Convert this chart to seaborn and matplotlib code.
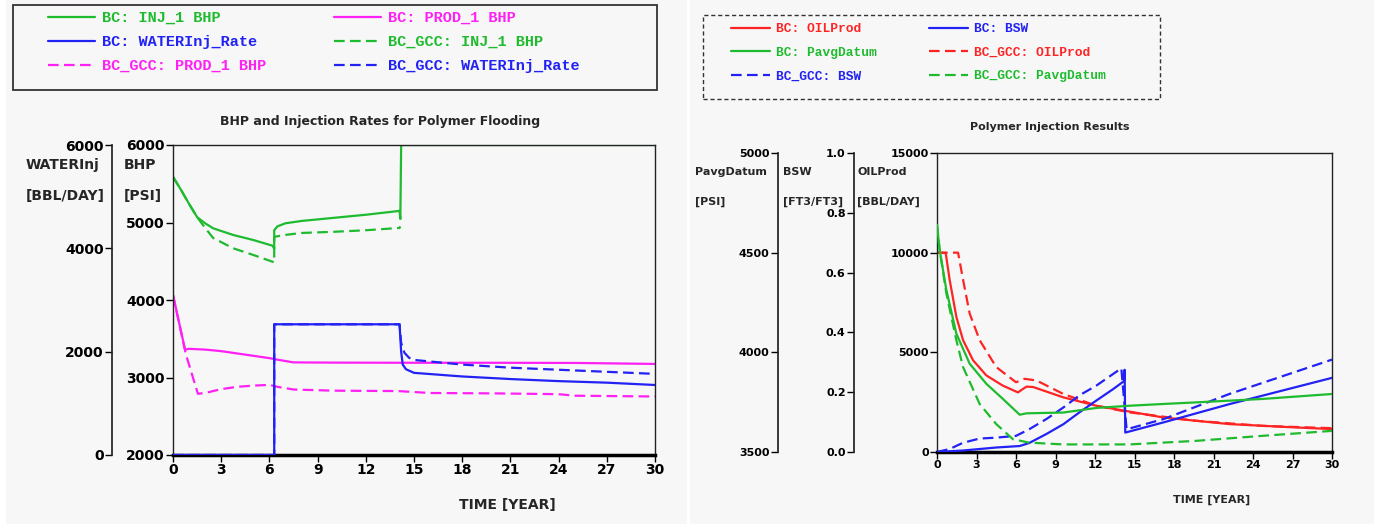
import matplotlib
matplotlib.use("Agg")
import matplotlib.pyplot as plt
from matplotlib.patches import Rectangle
import seaborn as sns

# ---------------- left chart: BHP and injection rates ----------------
t_inj_bc = [0, 0.5, 1.0, 1.5, 2, 2.5, 3.75, 5, 6.2, 6.3, 6.3, 6.5, 7, 8, 10, 12, 14.1, 14.15, 14.2, 30]
inj_bc = [5590, 5420, 5240, 5070, 4990, 4925, 4839, 4774, 4700, 4660, 4900, 4950, 4990, 5020, 5060, 5100, 5150, 5045, 6000, 6000]

t_inj_gcc = [0, 0.5, 1.0, 1.5, 2, 2.5, 3.75, 5, 6.3, 6.3, 7, 8, 10, 12, 14.1, 14.15]
inj_gcc = [5590, 5420, 5240, 5070, 4930, 4800, 4667, 4581, 4486, 4815, 4840, 4865, 4880, 4900, 4930, 4950]

t_prod_bc = [0, 0.75, 1, 2, 3, 4, 5, 6, 6.5, 7.5, 10, 15, 20, 25, 30]
prod_bc = [4065, 3360, 3370, 3360, 3340, 3310, 3280, 3250, 3230, 3195, 3192, 3190, 3190, 3188, 3175]

t_prod_gcc = [0, 0.8, 1.55, 2, 3, 4, 5, 6, 6.5, 7.5, 10, 14, 16, 20, 24, 25, 30]
prod_gcc = [4065, 3300, 2790, 2800, 2850, 2880, 2895, 2905, 2880, 2845, 2830, 2825, 2800, 2795, 2785, 2765, 2755]

t_water_bc = [0, 6.3, 6.3, 14.1, 14.2, 14.3, 14.5, 15, 18, 21, 24, 27, 30]
water_bc = [0, 0, 2530, 2530, 2000, 1750, 1660, 1590, 1520, 1470, 1430, 1400, 1355]

t_water_gcc = [0, 6.3, 6.3, 14.1, 14.2, 14.4, 14.7, 15, 18, 21, 24, 27, 30]
water_gcc = [0, 0, 2530, 2530, 2170, 1980, 1880, 1840, 1750, 1690, 1650, 1610, 1570]

# ---------------- right chart: polymer injection results ----------------
t_oil_bc = [0, 0.66, 0.96, 1.47, 1.98, 2.74, 3.75, 5.0, 6.15, 6.5, 6.8, 7.3, 9.6, 12.1, 14.25, 17.2, 22.2, 27.3, 30]
oil_bc = [10000, 9990, 8640, 6780, 5610, 4600, 3840, 3330, 2990, 3150, 3280, 3260, 2740, 2320, 2070, 1730, 1400, 1230, 1150]

t_oil_gcc = [0, 1.6, 1.98, 2.48, 3.24, 4.5, 6.0, 6.66, 7.55, 9.6, 12.1, 14.6, 19.6, 24.7, 30]
oil_gcc = [10000, 10000, 8640, 6950, 5610, 4260, 3500, 3670, 3590, 2910, 2320, 1990, 1570, 1310, 1195]

t_pavg_bc = [0, 0.2, 0.71, 1.47, 2.48, 3.75, 5.01, 6.28, 6.8, 9.6, 12.1, 14.6, 17.2, 19.7, 24.7, 30]
pavg_bc = [4640, 4515, 4313, 4094, 3943, 3842, 3766, 3687, 3694, 3698, 3721, 3732, 3741, 3749, 3766, 3791]

t_pavg_gcc = [0, 0.2, 0.71, 1.47, 1.98, 3.24, 4.5, 5.77, 7.0, 9.6, 14.6, 19.7, 24.7, 30]
pavg_gcc = [4640, 4515, 4296, 4061, 3926, 3741, 3640, 3564, 3547, 3538, 3538, 3556, 3581, 3606]

t_bsw_bc = [0, 1.98, 4.5, 6.28, 7.0, 8.3, 9.6, 10.8, 12.1, 13.4, 14.2, 14.25, 14.3, 17.2, 22.2, 30]
bsw_bc = [0, 0.005, 0.015, 0.02, 0.03, 0.06, 0.093, 0.132, 0.172, 0.211, 0.237, 0.275, 0.065, 0.099, 0.16, 0.248]

t_bsw_gcc = [0, 0.96, 1.98, 3.24, 4.5, 6.0, 7.0, 8.3, 9.6, 10.8, 12.1, 14.0, 14.4, 17.2, 22.2, 30]
bsw_gcc = [0, 0.01, 0.031, 0.045, 0.048, 0.054, 0.076, 0.11, 0.149, 0.189, 0.222, 0.28, 0.076, 0.11, 0.194, 0.309]

GREEN = "#1fbb2f"
BLUE = "#2222f5"
MAGENTA = "#ff20f5"
RED = "#ff2424"
BG = "#f7f7f7"
DASH = (0, (4.8, 2.4))

sns.set_theme(style="ticks")
plt.rcParams["font.family"] = ["DejaVu Sans"]
plt.rcParams["font.weight"] = "bold"
plt.rcParams["axes.facecolor"] = BG

W, H = 1374, 524
fig = plt.figure(figsize=(W / 100, H / 100), dpi=100)
fig.patch.set_facecolor(BG)


def box(l, t, r, b):
    return [l / W, 1 - b / H, (r - l) / W, (b - t) / H]


def draw(ax, t, y, color, dashed=False):
    sns.lineplot(x=t, y=y, ax=ax, color=color, lw=1.6, estimator=None, sort=False,
                 linestyle=DASH if dashed else "-", legend=False)
    return ax.get_lines()[-1]


def style_axis(ax, fs):
    ax.tick_params(axis="both", direction="out", length=5, width=1, labelsize=fs,
                   pad=1, colors="black")
    ax.set_xlabel("")
    ax.set_ylabel("")
    for lab in ax.get_xticklabels() + ax.get_yticklabels():
        lab.set_fontweight("bold")


def extra_axis(ax, pos):
    ax.patch.set_visible(False)
    for s in ["top", "right", "bottom"]:
        ax.spines[s].set_visible(False)
    ax.spines["left"].set_visible(True)
    ax.spines["left"].set_position(("axes", pos))
    ax.spines["left"].set_color("#222222")
    ax.yaxis.set_ticks_position("left")
    ax.yaxis.set_label_position("left")


# ---------------- left chart ----------------
ax1 = fig.add_axes(box(173, 145, 655, 455))
ax1w = ax1.twinx()
extra_axis(ax1w, -0.1266)

l_inj = draw(ax1, t_inj_bc, inj_bc, GREEN)
l_prod = draw(ax1, t_prod_bc, prod_bc, MAGENTA)
l_inj_g = draw(ax1, t_inj_gcc, inj_gcc, GREEN, True)
l_prod_g = draw(ax1, t_prod_gcc, prod_gcc, MAGENTA, True)
l_wat = draw(ax1w, t_water_bc, water_bc, BLUE)
l_wat_g = draw(ax1w, t_water_gcc, water_gcc, BLUE, True)

ax1.set_xlim(0, 30)
ax1.set_xticks(range(0, 31, 3))
ax1.set_ylim(2000, 6000)
ax1.set_yticks([2000, 3000, 4000, 5000, 6000])
ax1w.set_ylim(0, 6000)
ax1w.set_yticks([0, 2000, 4000, 6000])
for s in ax1.spines.values():
    s.set_color("#222222")
    s.set_linewidth(1)
ax1.spines["bottom"].set_linewidth(2.5)
ax1.spines["bottom"].set_color("black")
style_axis(ax1, 10)
style_axis(ax1w, 10)

fig.text(380 / W, 1 - 122 / H, "BHP and Injection Rates for Polymer Flooding",
         ha="center", va="center", fontsize=9, fontweight="bold")
fig.text(26 / W, 1 - 165 / H, "WATERInj", ha="left", va="center", fontsize=10, fontweight="bold")
fig.text(26 / W, 1 - 196 / H, "[BBL/DAY]", ha="left", va="center", fontsize=10, fontweight="bold")
fig.text(124 / W, 1 - 165 / H, "BHP", ha="left", va="center", fontsize=10, fontweight="bold")
fig.text(124 / W, 1 - 196 / H, "[PSI]", ha="left", va="center", fontsize=10, fontweight="bold")
fig.text(507 / W, 1 - 505 / H, "TIME [YEAR]", ha="center", va="center", fontsize=10, fontweight="bold")

# ---------------- right chart ----------------
ax2 = fig.add_axes(box(937, 153, 1332, 452))
ax2b = ax2.twinx()
ax2p = ax2.twinx()
extra_axis(ax2b, -0.210)
extra_axis(ax2p, -0.4025)

l_oil = draw(ax2, t_oil_bc, oil_bc, RED)
l_oil_g = draw(ax2, t_oil_gcc, oil_gcc, RED, True)
l_bsw = draw(ax2b, t_bsw_bc, bsw_bc, BLUE)
l_bsw_g = draw(ax2b, t_bsw_gcc, bsw_gcc, BLUE, True)
l_pav = draw(ax2p, t_pavg_bc, pavg_bc, GREEN)
l_pav_g = draw(ax2p, t_pavg_gcc, pavg_gcc, GREEN, True)

ax2.set_xlim(0, 30)
ax2.set_xticks(range(0, 31, 3))
ax2.set_ylim(0, 15000)
ax2.set_yticks([0, 5000, 10000, 15000])
ax2b.set_ylim(0, 1.0)
ax2b.set_yticks([0, 0.2, 0.4, 0.6, 0.8, 1.0])
ax2b.set_yticklabels(["0.0", "0.2", "0.4", "0.6", "0.8", "1.0"])
ax2p.set_ylim(3500, 5000)
ax2p.set_yticks([3500, 4000, 4500, 5000])
for s in ax2.spines.values():
    s.set_color("#222222")
    s.set_linewidth(1)
ax2.spines["bottom"].set_linewidth(2.5)
ax2.spines["bottom"].set_color("black")
for a in (ax2, ax2b, ax2p):
    style_axis(a, 8)

fig.text(1050 / W, 1 - 127 / H, "Polymer Injection Results",
         ha="center", va="center", fontsize=8, fontweight="bold")
for x, top, bot in [(695, "PavgDatum", "[PSI]"), (783, "BSW", "[FT3/FT3]"), (857, "OILProd", "[BBL/DAY]")]:
    fig.text(x / W, 1 - 172 / H, top, ha="left", va="center", fontsize=8, fontweight="bold")
    fig.text(x / W, 1 - 202 / H, bot, ha="left", va="center", fontsize=8, fontweight="bold")
fig.text(1212 / W, 1 - 500 / H, "TIME [YEAR]", ha="center", va="center", fontsize=8, fontweight="bold")

# ---------------- legends ----------------
left_handles = [l_inj, l_wat, l_prod_g, l_prod, l_inj_g, l_wat_g]
left_labels = ["BC: INJ_1 BHP", "BC: WATERInj_Rate", "BC_GCC: PROD_1 BHP",
               "BC: PROD_1 BHP", "BC_GCC: INJ_1 BHP", "BC_GCC: WATERInj_Rate"]
fig.legend(left_handles, left_labels, ncol=2, loc="upper left",
           bbox_to_anchor=(48 / W, 1 - 11 / H), frameon=False, borderpad=0, borderaxespad=0,
           handlelength=3.1, handletextpad=0.45, columnspacing=4.4, labelspacing=0.65,
           labelcolor="linecolor", prop={"family": "Liberation Mono", "weight": "bold", "size": 11})
fig.patches.append(Rectangle((13 / W, 1 - 90 / H), (657 - 13) / W, 85 / H, transform=fig.transFigure,
                             fill=False, edgecolor="#333333", lw=1.3))

right_handles = [l_oil, l_pav, l_bsw_g, l_bsw, l_oil_g, l_pav_g]
right_labels = ["BC: OILProd", "BC: PavgDatum", "BC_GCC: BSW",
                "BC: BSW", "BC_GCC: OILProd", "BC_GCC: PavgDatum"]
fig.legend(right_handles, right_labels, ncol=2, loc="upper left",
           bbox_to_anchor=(731 / W, 1 - 23 / H), frameon=False, borderpad=0, borderaxespad=0,
           handlelength=3.0, handletextpad=0.46, columnspacing=4.1, labelspacing=0.9,
           labelcolor="linecolor", prop={"family": "Liberation Mono", "weight": "bold", "size": 9.3})
fig.patches.append(Rectangle((703 / W, 1 - 99 / H), (1160 - 703) / W, 84 / H, transform=fig.transFigure,
                             fill=False, edgecolor="#333333", lw=1, linestyle=(0, (3, 2))))

# white borders of the two panels
fig.patches.append(Rectangle((687 / W, 0), 3 / W, 1, transform=fig.transFigure, color="white", lw=0))
fig.patches.append(Rectangle((0, 0), 6 / W, 1, transform=fig.transFigure, color="white", lw=0))

fig.savefig("out.png", dpi=100, facecolor=fig.get_facecolor())
